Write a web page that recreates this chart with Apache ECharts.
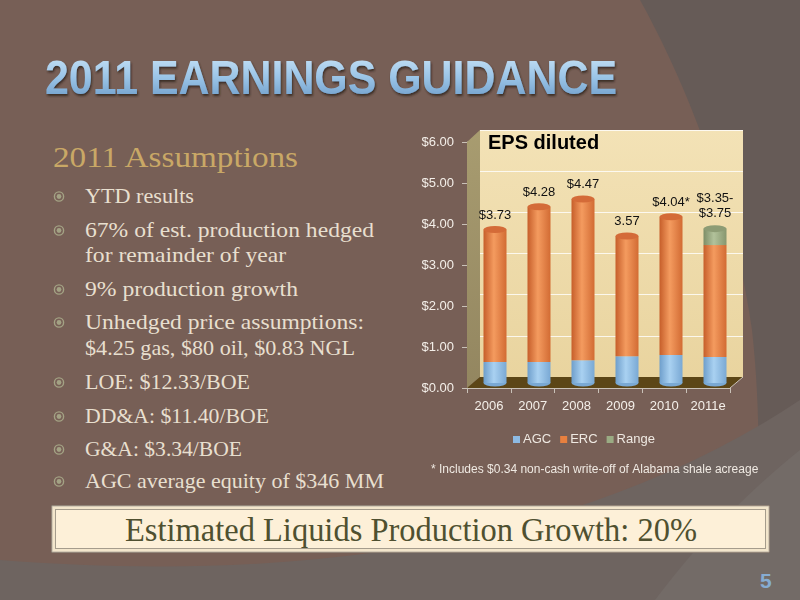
<!DOCTYPE html>
<html>
<head>
<meta charset="utf-8">
<script src="https://cdn.jsdelivr.net/npm/echarts@6/dist/echarts.min.js"></script>
<style>
  html, body { margin: 0; padding: 0; width: 800px; height: 600px; overflow: hidden; background: #775f56; }
  #slide { position: absolute; left: 0; top: 0; }
  #main { position: absolute; left: 0; top: 0; width: 800px; height: 600px; }
</style>
</head>
<body>
<!-- slide background and text -->
<svg id="slide" width="800" height="600" xmlns="http://www.w3.org/2000/svg">
  <defs>
    <linearGradient id="titleFill" x1="0" y1="0" x2="0" y2="1">
      <stop offset="0" stop-color="#cde6f8"/>
      <stop offset="0.5" stop-color="#9ac4e7"/>
      <stop offset="1" stop-color="#6897c5"/>
    </linearGradient>
    <filter id="shadow" x="-5%" y="-20%" width="110%" height="150%">
      <feDropShadow dx="1" dy="2" stdDeviation="1.2" flood-color="#2b201c" flood-opacity="0.8"/>
    </filter>
  </defs>
  <rect x="0" y="0" width="800" height="600" fill="#775f56"/>
  <path d="M640,0 C690,90 735,210 752,330 C762,420 760,520 750,600 L800,600 L800,0 Z" fill="#665b57"/>
  <path d="M0,560 C260,580 560,560 800,400 L800,600 L0,600 Z" fill="#6e6460"/>
  <path d="M655,600 C700,540 750,490 800,450 L800,600 Z" fill="#736b67"/>

  <text x="45" y="94" font-family="Liberation Sans, Arial, sans-serif" font-weight="bold" font-size="48"
        textLength="572" lengthAdjust="spacingAndGlyphs" fill="url(#titleFill)" filter="url(#shadow)">2011 EARNINGS GUIDANCE</text>

  <g font-family="Liberation Serif, Times New Roman, serif">
    <text x="53" y="167" font-size="30" fill="#c9a866" textLength="245" lengthAdjust="spacingAndGlyphs">2011 Assumptions</text>
    <g font-size="22" fill="#e8dfcf">
      <text x="85" y="203" textLength="109" lengthAdjust="spacingAndGlyphs">YTD results</text>
      <text x="85" y="237" textLength="289" lengthAdjust="spacingAndGlyphs">67% of est. production hedged</text>
      <text x="85" y="262" textLength="201" lengthAdjust="spacingAndGlyphs">for remainder of year</text>
      <text x="85" y="296" textLength="213" lengthAdjust="spacingAndGlyphs">9% production growth</text>
      <text x="85" y="329" textLength="279" lengthAdjust="spacingAndGlyphs">Unhedged price assumptions:</text>
      <text x="85" y="355" textLength="270" lengthAdjust="spacingAndGlyphs">$4.25 gas, $80 oil, $0.83 NGL</text>
      <text x="85" y="389" textLength="165" lengthAdjust="spacingAndGlyphs">LOE: $12.33/BOE</text>
      <text x="85" y="423" textLength="184" lengthAdjust="spacingAndGlyphs">DD&amp;A: $11.40/BOE</text>
      <text x="85" y="456" textLength="157" lengthAdjust="spacingAndGlyphs">G&amp;A: $3.34/BOE</text>
      <text x="85" y="488" textLength="299" lengthAdjust="spacingAndGlyphs">AGC average equity of $346 MM</text>
    </g>
  </g>
  <g id="bullets" fill="none" stroke="#a3a284" stroke-width="1.4"></g>

  <!-- highlighted box -->
  <rect x="51" y="505" width="719" height="48" fill="#6a5a50"/>
  <rect x="52" y="506" width="717" height="46" fill="#f3e6cc" stroke="#b9b0a2" stroke-width="1"/>
  <rect x="55.5" y="509.5" width="710" height="39" fill="#fdf0d8" stroke="#a59c8c" stroke-width="1"/>
  <text x="125" y="541" font-family="Liberation Serif, Times New Roman, serif" font-size="34" fill="#4f5030"
        textLength="572" lengthAdjust="spacingAndGlyphs">Estimated Liquids Production Growth: 20%</text>

  <text x="760" y="588" font-family="Liberation Sans, Arial, sans-serif" font-weight="bold" font-size="21" fill="#86acd2">5</text>
</svg>
<div id="main"></div>
<script>
// data
var years = ["2006", "2007", "2008", "2009", "2010", "2011e"];
var agc = [0.51, 0.51, 0.55, 0.65, 0.68, 0.63];
var erc = [3.22, 3.77, 3.92, 2.92, 3.36, 2.72];
var range = ["-", "-", "-", "-", "-", 0.40];
var topLabels = ["$3.73", "$4.28", "$4.47", "3.57", "$4.04*", "$3.35-\n$3.75"];
var bulletRows = [203, 237, 296, 329, 389, 423, 456, 488];

// bullets next to the text
(function() {
  var g = document.getElementById("bullets");
  var ns = "http://www.w3.org/2000/svg";
  bulletRows.forEach(function(y) {
    var ring = document.createElementNS(ns, "circle");
    ring.setAttribute("cx", 59); ring.setAttribute("cy", y - 6.5); ring.setAttribute("r", 4.6);
    g.appendChild(ring);
    var dot = document.createElementNS(ns, "circle");
    dot.setAttribute("cx", 59); dot.setAttribute("cy", y - 6.5); dot.setAttribute("r", 2.4);
    dot.setAttribute("fill", "#a3a284"); dot.setAttribute("stroke", "none");
    g.appendChild(dot);
  });
})();

// EPS diluted chart
(function() {
  var myChart = echarts.init(document.getElementById("main"), null, { renderer: "canvas" });
  var G = echarts.graphic.LinearGradient;

  // totals for the cylinder caps
  var totals = years.map(function(y, i) {
    return +(agc[i] + erc[i] + (range[i] === "-" ? 0 : range[i])).toFixed(2);
  });
  var capColors = totals.map(function(t, i) {
    return range[i] === "-" ? "#d46b38" : "#8d9c75";
  });

  var cyl = function(a, b, c) {
    return new G(0, 0, 1, 0, [
      { offset: 0, color: a },
      { offset: 0.45, color: b },
      { offset: 1, color: c }
    ]);
  };

  var option = {
    textStyle: { fontFamily: "Liberation Sans, Arial, sans-serif" },
    title: {
      text: "EPS diluted",
      left: 488,
      top: 133,
      padding: 0,
      textStyle: { fontSize: 20, fontWeight: "bold", color: "#000" }
    },
    legend: {
      left: 513,
      top: 433,
      padding: 0,
      icon: "rect",
      itemWidth: 7,
      itemHeight: 7,
      itemGap: 9,
      textStyle: { color: "#efe9e2", fontSize: 13, padding: [0, 0, 0, -2] },
      data: [
        { name: "AGC", itemStyle: { color: "#8dbae3" } },
        { name: "ERC", itemStyle: { color: "#e8803f" } },
        { name: "Range", itemStyle: { color: "#9aab83" } }
      ]
    },
    grid: [
      // back wall
      {
        left: 480, right: 57, top: 130, bottom: 223,
        show: true, borderWidth: 0,
        backgroundColor: new G(0, 0, 0, 1, [
          { offset: 0, color: "#f3e2b6" },
          { offset: 1, color: "#e9d49f" }
        ])
      },
      // front axes
      { left: 467, right: 70, top: 142, bottom: 212 },
      // bars, half way between
      { left: 473, right: 63, top: 136, bottom: 217 }
    ],
    xAxis: [
      { gridIndex: 0, type: "category", data: years, axisLine: { show: false }, axisTick: { show: false }, axisLabel: { show: false } },
      {
        gridIndex: 1, type: "category", data: years,
        axisLine: { lineStyle: { color: "#c9c1b8" } },
        axisTick: { show: true, length: 5, interval: 0, lineStyle: { color: "#c9c1b8" } },
        axisLabel: { color: "#f4efe9", fontSize: 13, margin: 12, interval: 0 }
      },
      { gridIndex: 2, type: "category", data: years, show: false }
    ],
    yAxis: [
      {
        gridIndex: 0, type: "value", min: 0, max: 6, interval: 1,
        axisLine: { show: false }, axisTick: { show: false }, axisLabel: { show: false },
        splitLine: { lineStyle: { color: "rgba(255,255,255,0.8)" } }
      },
      {
        gridIndex: 1, type: "value", min: 0, max: 6, interval: 1,
        axisLine: { show: true, lineStyle: { color: "#c9c1b8" } },
        axisTick: { show: true, length: 5, lineStyle: { color: "#c9c1b8" } },
        axisLabel: {
          color: "#f4efe9", fontSize: 13, margin: 13,
          formatter: function(v) { return "$" + v.toFixed(2); }
        },
        splitLine: { show: false }
      },
      { gridIndex: 2, type: "value", min: 0, max: 6, show: false, splitLine: { show: false } }
    ],
    // side wall and floor of the 3d box
    graphic: [
      {
        type: "polygon", z: 1,
        shape: { points: [[467, 388], [467, 142], [480, 130], [480, 377]] },
        style: { fill: new G(0, 0, 0, 1, [{ offset: 0, color: "#a89c70" }, { offset: 1, color: "#938660" }]) }
      },
      {
        type: "polygon", z: 1,
        shape: { points: [[467, 388], [730, 388], [743, 377], [480, 377]] },
        style: { fill: "#5c4617" }
      },
      {
        type: "polyline", z: 1,
        shape: { points: [[730, 388], [743, 377]] },
        style: { stroke: "#c9c1b8", lineWidth: 1 }
      },
      {
        type: "text", left: 431, top: 464,
        style: { text: "* Includes $0.34 non-cash write-off of Alabama shale acreage", fill: "#efe9e2", fontSize: 12, fontFamily: "Liberation Sans, Arial, sans-serif" }
      }
    ],
    series: [
      {
        name: "AGC", type: "bar", stack: "eps", xAxisIndex: 2, yAxisIndex: 2,
        barWidth: 23, z: 3,
        itemStyle: { color: cyl("#6e9ecb", "#a9d1f1", "#79a8d4") },
        data: agc
      },
      {
        name: "ERC", type: "bar", stack: "eps", xAxisIndex: 2, yAxisIndex: 2,
        barWidth: 23, z: 3,
        itemStyle: { color: cyl("#c65e2a", "#f49b5f", "#d26b33") },
        label: {
          show: true, position: "top", distance: 8, color: "#111", fontSize: 13,
          formatter: function(p) { return p.dataIndex < 5 ? topLabels[p.dataIndex] : ""; }
        },
        data: erc
      },
      {
        name: "Range", type: "bar", stack: "eps", xAxisIndex: 2, yAxisIndex: 2,
        barWidth: 23, z: 3,
        itemStyle: { color: cyl("#7d8d66", "#b2c29b", "#86966e") },
        label: {
          show: true, position: "top", distance: 8, color: "#111", fontSize: 13, lineHeight: 15,
          formatter: function(p) { return topLabels[p.dataIndex]; }
        },
        data: range
      },
      // rounded bottoms
      {
        type: "pictorialBar", xAxisIndex: 2, yAxisIndex: 2, z: 2,
        symbol: "circle", symbolSize: [23, 7], symbolOffset: [0, "50%"], symbolPosition: "start",
        barGap: "-100%", silent: true,
        itemStyle: { color: "#7aa9d4" },
        data: agc
      },
      // tops of the cylinders
      {
        type: "pictorialBar", xAxisIndex: 2, yAxisIndex: 2, z: 4,
        symbol: "circle", symbolSize: [23, 7], symbolOffset: [0, "-50%"], symbolPosition: "end",
        barGap: "-100%", silent: true,
        data: totals.map(function(t, i) {
          return { value: t, itemStyle: { color: capColors[i] } };
        })
      }
    ]
  };

  myChart.setOption(option);
  window.addEventListener("resize", function() {
    myChart.resize();
  });
})();
</script>
</body>
</html>
